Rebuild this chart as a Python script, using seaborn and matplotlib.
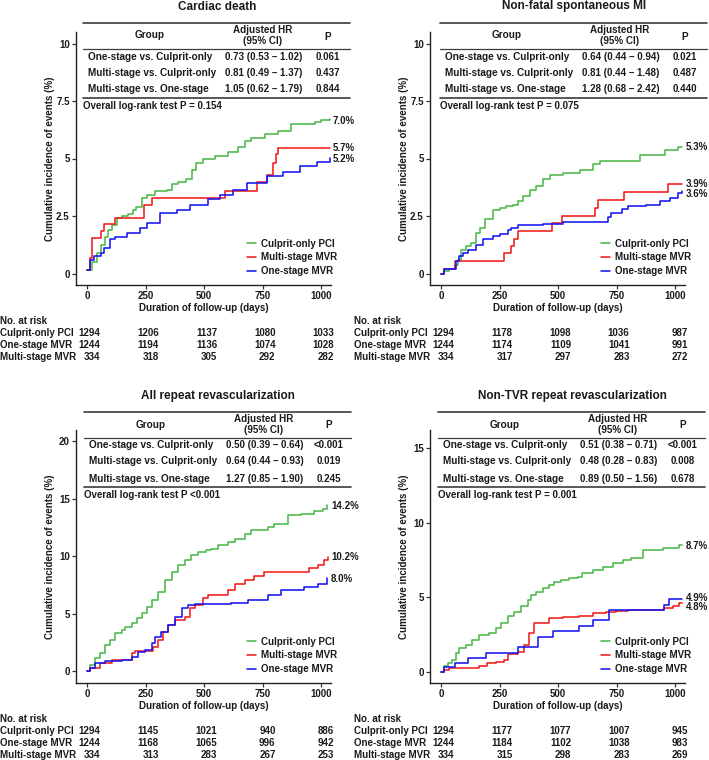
import numpy as np
import pandas as pd
import matplotlib
matplotlib.use("Agg")
import matplotlib.pyplot as plt
import matplotlib.transforms as mtransforms
from matplotlib.lines import Line2D
from matplotlib import font_manager as fm
import seaborn as sns

# ---------------- data ----------------
groups = ["Culprit-only PCI", "Multi-stage MVR", "One-stage MVR"]
risk_groups = ["Culprit-only PCI", "One-stage MVR", "Multi-stage MVR"]
risk_days = [0, 250, 500, 750, 1000]
x_ticks = [0, 250, 500, 750, 1000]
x_ticklabels = ["0", "250", "500", "750", "1000"]
comparisons = ["One-stage vs. Culprit-only", "Multi-stage vs. Culprit-only", "Multi-stage vs. One-stage"]

# Cardiac death
cd_days_culprit = [0, 20, 40, 60, 75, 90, 104, 125, 150, 175, 195, 210, 232, 254, 290, 339, 360, 389, 424, 446, 467, 496, 546, 603, 645, 674, 702, 759, 816, 873, 973, 1001, 1037]
cd_pct_culprit = [0.15, 0.5, 0.9, 1.25, 1.6, 1.9, 2.1, 2.4, 2.5, 2.6, 2.75, 2.9, 3.3, 3.4, 3.6, 3.65, 3.9, 4.0, 4.1, 4.5, 4.8, 5.0, 5.1, 5.3, 5.5, 5.75, 5.9, 6.05, 6.2, 6.5, 6.6, 6.67, 6.72]
cd_days_multi = [0, 10, 20, 56, 73, 120, 244, 276, 590, 725, 770, 795, 808, 818, 1037]
cd_pct_multi = [0.14, 0.68, 1.55, 1.84, 2.14, 2.42, 3.0, 3.29, 3.58, 4.0, 4.3, 4.8, 5.2, 5.46, 5.46]
cd_days_one = [0, 13, 27, 56, 70, 98, 120, 170, 226, 255, 312, 383, 440, 518, 568, 624, 683, 769, 838, 910, 983, 1037]
cd_pct_one = [0.14, 0.6, 0.78, 0.9, 1.12, 1.48, 1.6, 1.77, 1.99, 2.2, 2.64, 2.78, 3.0, 3.22, 3.43, 3.65, 3.95, 4.22, 4.43, 4.66, 4.83, 5.04]
cd_hr = ["0.73 (0.53 \u2013 1.02)", "0.81 (0.49 \u2013 1.37)", "1.05 (0.62 \u2013 1.79)"]
cd_p = ["0.061", "0.437", "0.844"]
cd_overall = "Overall log-rank test P = 0.154"
cd_end_labels = ["7.0%", "5.7%", "5.2%"]
cd_risk_culprit = [1294, 1206, 1137, 1080, 1033]
cd_risk_one = [1244, 1194, 1136, 1074, 1028]
cd_risk_multi = [334, 318, 305, 292, 282]

# Non-fatal spontaneous MI
mi_days_culprit = [0, 13, 34, 56, 70, 84, 106, 127, 149, 163, 185, 220, 249, 278, 306, 328, 349, 378, 406, 435, 464, 521, 592, 649, 678, 850, 957, 1014, 1030]
mi_pct_culprit = [0, 0.1, 0.2, 0.39, 0.6, 1.04, 1.19, 1.33, 1.77, 1.99, 2.35, 2.78, 2.86, 2.93, 3.0, 3.14, 3.36, 3.65, 3.8, 4.09, 4.3, 4.38, 4.52, 4.74, 4.88, 5.17, 5.39, 5.5, 5.5]
mi_days_multi = [0, 13, 60, 270, 300, 310, 328, 472, 515, 657, 670, 781, 970, 1030]
mi_pct_multi = [0, 0.2, 0.54, 0.87, 1.2, 1.5, 1.84, 2.2, 2.5, 2.86, 3.18, 3.55, 3.9, 3.9]
mi_days_one = [0, 13, 63, 77, 92, 113, 149, 177, 220, 249, 285, 299, 328, 435, 520, 712, 728, 772, 800, 878, 936, 979, 1014, 1030]
mi_pct_one = [0, 0.2, 0.54, 0.75, 0.9, 1.04, 1.26, 1.48, 1.62, 1.7, 1.91, 1.99, 2.13, 2.17, 2.22, 2.45, 2.64, 2.8, 2.93, 3.0, 3.14, 3.29, 3.5, 3.58]
mi_hr = ["0.64 (0.44 \u2013 0.94)", "0.81 (0.44 \u2013 1.48)", "1.28 (0.68 \u2013 2.42)"]
mi_p = ["0.021", "0.487", "0.440"]
mi_overall = "Overall log-rank test P = 0.075"
mi_end_labels = ["5.3%", "3.9%", "3.6%"]
mi_risk_culprit = [1294, 1178, 1098, 1036, 987]
mi_risk_one = [1244, 1174, 1109, 1041, 991]
mi_risk_multi = [334, 317, 297, 283, 272]

# All repeat revascularization
rv_days_culprit = [0, 11, 33, 54, 75, 97, 118, 147, 161, 189, 211, 232, 253, 275, 303, 331, 360, 388, 417, 445, 474, 509, 531, 559, 602, 630, 673, 701, 744, 772, 801, 858, 915, 972, 1007, 1028]
rv_pct_culprit = [0, 0.52, 1.1, 1.54, 2.26, 2.7, 3.28, 3.57, 3.86, 4.14, 4.58, 5.01, 5.59, 6.17, 6.9, 7.91, 8.64, 9.22, 9.65, 10.09, 10.38, 10.52, 10.67, 10.96, 11.25, 11.54, 11.97, 12.26, 12.32, 12.55, 12.84, 13.57, 13.71, 13.94, 14.14, 14.43]
rv_days_multi = [0, 11, 54, 104, 189, 203, 282, 303, 324, 346, 374, 417, 438, 459, 495, 516, 602, 630, 673, 715, 758, 950, 986, 1014, 1031]
rv_pct_multi = [0, 0.23, 0.67, 0.96, 1.54, 1.77, 2.12, 2.7, 3.42, 4.0, 4.43, 4.72, 5.45, 5.74, 6.32, 6.61, 7.04, 7.62, 7.91, 8.26, 8.64, 8.93, 9.22, 9.65, 9.94]
rv_days_one = [0, 11, 33, 75, 147, 189, 218, 246, 275, 289, 317, 346, 374, 403, 431, 459, 616, 687, 772, 829, 929, 986, 1028]
rv_pct_one = [0, 0.23, 0.67, 0.87, 0.96, 1.25, 1.68, 1.83, 2.41, 2.99, 3.42, 4.0, 4.72, 5.45, 5.74, 5.83, 5.88, 6.17, 6.61, 7.04, 7.33, 7.62, 8.14]
rv_hr = ["0.50 (0.39 \u2013 0.64)", "0.64 (0.44 \u2013 0.93)", "1.27 (0.85 \u2013 1.90)"]
rv_p = ["<0.001", "0.019", "0.245"]
rv_overall = "Overall log-rank test P <0.001"
rv_end_labels = ["14.2%", "10.2%", "8.0%"]
rv_risk_culprit = [1294, 1145, 1021, 940, 886]
rv_risk_one = [1244, 1168, 1065, 996, 942]
rv_risk_multi = [334, 313, 283, 267, 253]

# Non-TVR repeat revascularization
nt_days_culprit = [0, 11, 26, 47, 61, 76, 104, 133, 161, 204, 233, 254, 283, 311, 340, 369, 383, 404, 433, 461, 483, 511, 547, 583, 604, 647, 690, 733, 776, 810, 861, 947, 1019, 1030]
nt_pct_culprit = [0, 0.36, 0.58, 0.8, 1.25, 1.58, 1.81, 2.14, 2.48, 2.59, 2.92, 3.26, 3.71, 4.04, 4.38, 4.82, 5.16, 5.38, 5.6, 5.83, 6.05, 6.16, 6.27, 6.38, 6.61, 6.83, 7.05, 7.28, 7.5, 7.61, 8.17, 8.28, 8.5, 8.5]
nt_days_multi = [0, 11, 33, 161, 197, 233, 269, 283, 326, 354, 376, 397, 461, 519, 590, 647, 704, 747, 797, 954, 990, 1019, 1030]
nt_pct_multi = [0, 0.09, 0.25, 0.36, 0.58, 0.69, 0.8, 1.2, 1.36, 1.81, 2.59, 3.26, 3.59, 3.66, 3.75, 3.93, 4.04, 4.1, 4.13, 4.26, 4.42, 4.6, 4.6]
nt_days_one = [0, 11, 56, 112, 190, 326, 412, 476, 590, 650, 718, 955, 975, 1030]
nt_pct_one = [0, 0.3, 0.6, 0.9, 1.28, 1.64, 2.3, 2.75, 3.1, 3.5, 4.13, 4.5, 4.9, 4.9]
nt_hr = ["0.51 (0.38 \u2013 0.71)", "0.48 (0.28 \u2013 0.83)", "0.89 (0.50 \u2013 1.56)"]
nt_p = ["<0.001", "0.008", "0.678"]
nt_overall = "Overall log-rank test P = 0.001"
nt_end_labels = ["8.7%", "4.8%", "4.9%"]
nt_risk_culprit = [1294, 1177, 1077, 1007, 945]
nt_risk_one = [1244, 1184, 1102, 1038, 983]
nt_risk_multi = [334, 315, 298, 283, 269]

# ---------------- style ----------------
sns.set_style("ticks")
plt.rcParams["font.family"] = ["Liberation Sans", "DejaVu Sans"]
plt.rcParams["font.weight"] = "bold"


def FP(size):
    return fm.FontProperties(family=["Liberation Sans", "DejaVu Sans"], weight="bold", size=size)


palette = {"Culprit-only PCI": "#4CB848", "Multi-stage MVR": "#F21B1B", "One-stage MVR": "#1515F2"}
TXT = "#1a1a1a"
W, H = 709, 760
AW, AH = 255, 253

fig = plt.figure(figsize=(W / 100, H / 100), dpi=100)


def ftext(X, Y, s, size=7, **kw):
    kw.setdefault("color", TXT)
    fig.text(X / W, 1 - Y / H, s, fontproperties=FP(size), **kw)


def fline(X0, X1, Y, lw):
    fig.add_artist(Line2D([X0 / W, X1 / W], [1 - Y / H, 1 - Y / H],
                          transform=fig.transFigure, color="#3c3c3c", lw=lw))


panels = [
    dict(title="Cardiac death",
         days=(cd_days_culprit, cd_days_multi, cd_days_one),
         pct=(cd_pct_culprit, cd_pct_multi, cd_pct_one),
         ylim=(-0.5, 10.5), yticks=[0, 2.5, 5, 7.5, 10], yticklabels=["0", "2.5", "5", "7.5", "10"],
         hr=cd_hr, p=cd_p, overall=cd_overall, ends=cd_end_labels, end_dy=(-2, 0, -1),
         risk=(cd_risk_culprit, cd_risk_one, cd_risk_multi),
         ax_px=(76, 32), tbl=(0, 0)),
    dict(title="Non-fatal spontaneous MI",
         days=(mi_days_culprit, mi_days_multi, mi_days_one),
         pct=(mi_pct_culprit, mi_pct_multi, mi_pct_one),
         ylim=(-0.5, 10.5), yticks=[0, 2.5, 5, 7.5, 10], yticklabels=["0", "2.5", "5", "7.5", "10"],
         hr=mi_hr, p=mi_p, overall=mi_overall, ends=mi_end_labels, end_dy=(0, 0, -3),
         risk=(mi_risk_culprit, mi_risk_one, mi_risk_multi),
         ax_px=(430, 32), tbl=(357, 0)),
    dict(title="All repeat revascularization",
         days=(rv_days_culprit, rv_days_multi, rv_days_one),
         pct=(rv_pct_culprit, rv_pct_multi, rv_pct_one),
         ylim=(-1.05, 21.0), yticks=[0, 5, 10, 15, 20], yticklabels=["0", "5", "10", "15", "20"],
         hr=rv_hr, p=rv_p, overall=rv_overall, ends=rv_end_labels, end_dy=(-1, 0, -1),
         risk=(rv_risk_culprit, rv_risk_one, rv_risk_multi),
         ax_px=(76, 430), tbl=(1, 389)),
    dict(title="Non-TVR repeat revascularization",
         days=(nt_days_culprit, nt_days_multi, nt_days_one),
         pct=(nt_pct_culprit, nt_pct_multi, nt_pct_one),
         ylim=(-0.75, 16.2), yticks=[0, 5, 10, 15], yticklabels=["0", "5", "10", "15"],
         hr=nt_hr, p=nt_p, overall=nt_overall, ends=nt_end_labels, end_dy=(-1, -4, 1),
         risk=(nt_risk_culprit, nt_risk_one, nt_risk_multi),
         ax_px=(430, 430), tbl=(355, 389)),
]

for P in panels:
    L, T = P["ax_px"]
    B = T + AH
    ax = fig.add_axes([L / W, 1 - B / H, AW / W, AH / H])
    frames = [pd.DataFrame({"day": d, "pct": v, "group": g})
              for g, d, v in zip(groups, P["days"], P["pct"])]
    df = pd.concat(frames, ignore_index=True)
    sns.lineplot(data=df, x="day", y="pct", hue="group", hue_order=groups, palette=palette,
                 estimator=None, drawstyle="steps-post", linewidth=1.15, ax=ax)
    ax.set_xlim(-49, 1043)
    ax.set_ylim(*P["ylim"])
    ax.set_xticks(x_ticks)
    ax.set_xticklabels(x_ticklabels)
    ax.set_yticks(P["yticks"])
    ax.set_yticklabels(P["yticklabels"])
    ax.set_xlabel("")
    ax.set_ylabel("")
    ax.set_facecolor("white")
    sns.despine(ax=ax)
    for s in ("left", "bottom"):
        ax.spines[s].set_linewidth(1.0)
        ax.spines[s].set_color("#222222")
    ax.tick_params(axis="both", direction="out", length=3, width=0.9, color="#333333",
                   labelcolor=TXT, pad=1.5)
    for lab in ax.get_xticklabels() + ax.get_yticklabels():
        lab.set_fontproperties(FP(7))

    # legend
    h, l = ax.get_legend_handles_labels()
    ax.legend(h, l, loc="lower left", bbox_to_anchor=(0.671, 0.035), frameon=False,
              prop=FP(7), handlelength=0.95, handletextpad=0.45, labelspacing=0.38,
              borderpad=0, borderaxespad=0)
    for t in ax.get_legend().get_texts():
        t.set_color(TXT)

    # end labels
    for d, v, lab, dy in zip(P["days"], P["pct"], P["ends"], P["end_dy"]):
        ax.annotate(lab, xy=(d[-1], v[-1]), xytext=(3.5, dy), textcoords="offset pixels",
                    ha="left", va="center", fontproperties=FP(7), color=TXT,
                    annotation_clip=False)

    # axis labels
    ftext(L + AW / 2, B + 23, "Duration of follow-up (days)", 7, ha="center", va="center")
    ftext(L - 26, T + AH / 2, "Cumulative incidence of events (%)", 7, ha="center", va="center",
          rotation=90)

    # title and HR table
    tx, ty = P["tbl"]
    ftext(217 + tx, 6.5 + ty, P["title"], 8.5, ha="center", va="center")
    fline(83 + tx, 350 + tx, 23 + ty, 1.2)
    fline(83 + tx, 350 + tx, 49 + ty, 0.9)
    fline(83 + tx, 350 + tx, 98 + ty, 1.2)
    ftext(150 + tx, 35.5 + ty, "Group", 7.2, ha="center", va="center")
    ftext(263 + tx, 35.5 + ty, "Adjusted HR\n(95% CI)", 7.1, ha="center", va="center",
          linespacing=1.15, multialignment="center")
    ftext(328 + tx, 36.5 + ty, "P", 7.2, ha="center", va="center")
    for i, yy in enumerate([56.5, 72.5, 89.5]):
        ftext(88 + tx, yy + ty, comparisons[i], 7.2, ha="left", va="center")
        ftext(264 + tx, yy + ty, P["hr"][i], 7.0, ha="center", va="center")
        ftext(328 + tx, yy + ty, P["p"][i], 7.0, ha="center", va="center")
    ftext(83 + tx, 106 + ty, P["overall"], 7.0, ha="left", va="center")

    # number at risk
    ftext(L - 76, B + 36, "No. at risk", 7, ha="left", va="center")
    trans = mtransforms.blended_transform_factory(ax.transData, fig.transFigure) + \
        mtransforms.ScaledTranslation(13 / 100, 0, fig.dpi_scale_trans)
    for r, (gname, counts) in enumerate(zip(risk_groups, P["risk"])):
        Y = B + 48 + 12 * r
        ftext(L - 76, Y, gname, 7, ha="left", va="center")
        for dday, n in zip(risk_days, counts):
            fig.text(dday, 1 - Y / H, str(n), transform=trans, ha="right", va="center",
                     fontproperties=FP(7), color=TXT)

fig.savefig("out.png", dpi=100, facecolor="white")
